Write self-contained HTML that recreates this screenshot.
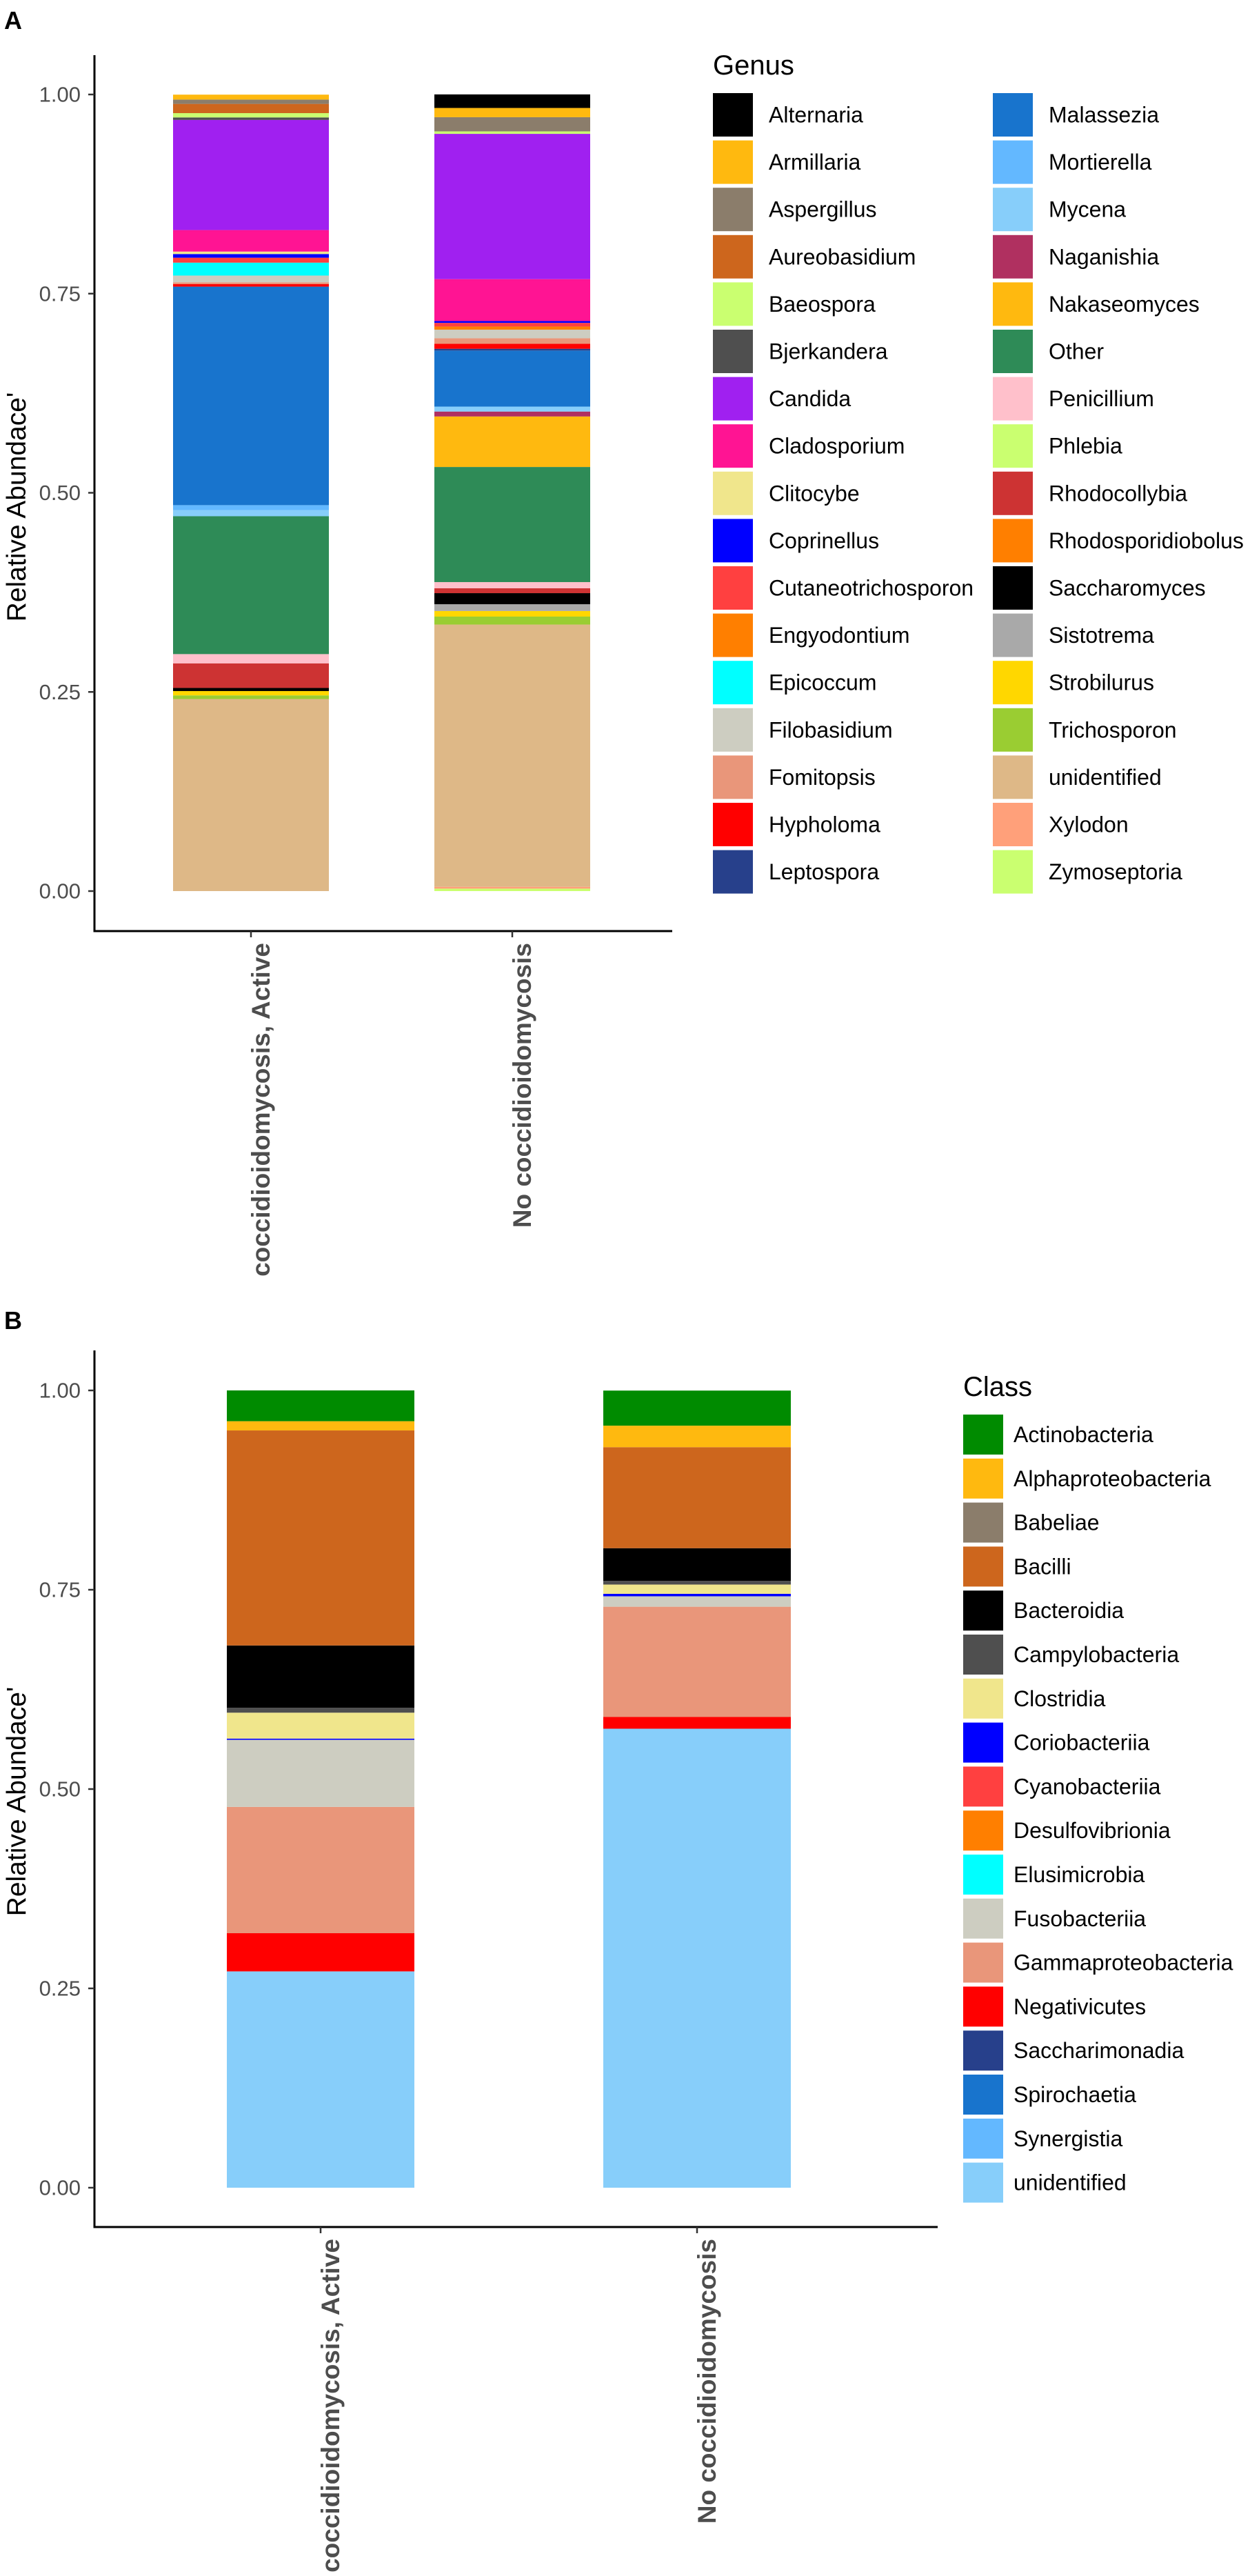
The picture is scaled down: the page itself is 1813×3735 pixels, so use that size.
<!DOCTYPE html>
<html><head><meta charset="utf-8">
<style>
html,body{margin:0;padding:0;background:#fff;}
svg{display:block;font-family:"Liberation Sans",Arial,sans-serif;}
</style></head>
<body>
<svg id="chart" width="1813" height="3735" viewBox="0 0 1813 3735" xmlns="http://www.w3.org/2000/svg">
<text x="6" y="42" font-size="36" font-weight="bold">A</text>
<text x="6" y="1927" font-size="36" font-weight="bold">B</text>
<g id="panelA"></g>
<g id="panelB"></g>
</svg>
<script>
const groups = ["coccidioidomycosis, Active", "No coccidioidomycosis"];
const yTicks = [0, 0.25, 0.5, 0.75, 1];
const yTickLabels = ["0.00", "0.25", "0.50", "0.75", "1.00"];

const genusNames = ["Alternaria","Armillaria","Aspergillus","Aureobasidium","Baeospora","Bjerkandera","Candida","Cladosporium","Clitocybe","Coprinellus","Cutaneotrichosporon","Engyodontium","Epicoccum","Filobasidium","Fomitopsis","Hypholoma","Leptospora","Malassezia","Mortierella","Mycena","Naganishia","Nakaseomyces","Other","Penicillium","Phlebia","Rhodocollybia","Rhodosporidiobolus","Saccharomyces","Sistotrema","Strobilurus","Trichosporon","unidentified","Xylodon","Zymoseptoria"];
const genusColors = ["#000000","#FFB90F","#8B7D6B","#CD661D","#CAFF70","#4F4F4F","#A020F0","#FF1493","#F0E68C","#0000FF","#FF4040","#FF7F00","#00FFFF","#CDCDC1","#E9967A","#FF0000","#27408B","#1874CD","#63B8FF","#87CEFA","#B03060","#FFB90F","#2E8B57","#FFC0CB","#CAFF70","#CD3333","#FF7F00","#000000","#A9A9A9","#FFD700","#9ACD32","#DEB887","#FFA07A","#CAFF70"];
const genusActive = [0,0.0062,0.0054,0.0116,0.0054,0.0031,0.1383,0.0270,0.0031,0.0046,0.0062,0,0.0162,0.0085,0.0023,0.0031,0,0.2743,0.0062,0.0077,0,0,0.1731,0.0116,0,0.0309,0,0.0039,0,0.0054,0.0046,0.2411,0,0];
const genusNo = [0.0170,0.0116,0.0178,0,0.0031,0,0.1824,0.0526,0,0.0023,0.0046,0.0039,0,0.0108,0.0070,0.0062,0.0023,0.0703,0,0.0062,0.0062,0.0634,0.1445,0.0077,0,0.0062,0,0.0139,0.0085,0.0070,0.0100,0.3292,0.0023,0.0031];

const classNames = ["Actinobacteria","Alphaproteobacteria","Babeliae","Bacilli","Bacteroidia","Campylobacteria","Clostridia","Coriobacteriia","Cyanobacteriia","Desulfovibrionia","Elusimicrobia","Fusobacteriia","Gammaproteobacteria","Negativicutes","Saccharimonadia","Spirochaetia","Synergistia","unidentified"];
const classColors = ["#008B00","#FFB90F","#8B7D6B","#CD661D","#000000","#4F4F4F","#F0E68C","#0000FF","#FF4040","#FF7F00","#00FFFF","#CDCDC1","#E9967A","#FF0000","#27408B","#1874CD","#63B8FF","#87CEFA"];
const classActive = [0.0386,0.0116,0,0.2697,0.0781,0.0062,0.0325,0.0015,0,0,0,0.0842,0.1584,0.0479,0,0,0,0.2713];
const classNo = [0.0440,0.0270,0,0.1267,0.0410,0.0046,0.0116,0.0031,0,0,0,0.0131,0.1383,0.0147,0,0,0,0.5757];

const NS = "http://www.w3.org/2000/svg";
function mk(parent, tag, attrs, text){
  const e = document.createElementNS(NS, tag);
  for (const k in attrs) e.setAttribute(k, attrs[k]);
  if (text !== undefined) e.textContent = text;
  parent.appendChild(e);
  return e;
}

function drawPanel(g, cfg){
  const yScale = v => cfg.y0 + (cfg.y1 - cfg.y0) * v;
  const xCenter = i => cfg.xc[i];
  const series = [cfg.active, cfg.no];
  series.forEach((vals, gi) => {
    let cum = 0;
    for (let k = vals.length - 1; k >= 0; k--) {
      const v = vals[k];
      if (v <= 0) continue;
      const ytop = yScale(cum + v), ybot = yScale(cum);
      const r = mk(g, "rect", {x: xCenter(gi) - cfg.hw, y: ytop, width: cfg.hw * 2, height: ybot - ytop, fill: cfg.colors[k]});
      
      
      cum += v;
    }
  });
  const ya = mk(g, "line", {x1: cfg.ax, y1: cfg.axTop, x2: cfg.ax, y2: cfg.axBottom + 1.5, stroke: "#000", "stroke-width": 3});
  
  
  const xa = mk(g, "line", {x1: cfg.ax - 1.5, y1: cfg.axBottom, x2: cfg.axRight, y2: cfg.axBottom, stroke: "#000", "stroke-width": 3});
  
  
  yTicks.forEach((t, i) => {
    const y = yScale(t);
    const tk = mk(g, "line", {x1: cfg.ax - 9, y1: y, x2: cfg.ax, y2: y, stroke: "#333", "stroke-width": 2.5});
    
    
    const tl = mk(g, "text", {x: cfg.ax - 20, y: y, "font-size": 31, fill: "#4d4d4d", "text-anchor": "end", "dominant-baseline": "central"}, yTickLabels[i]);
    
    
  });
  groups.forEach((gname, i) => {
    const x = xCenter(i);
    const tk = mk(g, "line", {x1: x, y1: cfg.axBottom, x2: x, y2: cfg.axBottom + 9, stroke: "#333", "stroke-width": 2.5});
    
    
    const lx = x + 27, ly = cfg.axBottom + 17;
    const tl = mk(g, "text", {x: lx, y: ly, "font-size": 37, "font-weight": "bold", fill: "#4d4d4d", "text-anchor": "end", transform: `rotate(-90 ${lx} ${ly})`}, gname);
    
    
  });
  const ty = (cfg.yTitleCenter);
  const yt = mk(g, "text", {x: 37, y: ty, "font-size": 39, fill: "#000", "text-anchor": "middle", transform: `rotate(-90 37 ${ty})`}, "Relative Abundace'");
  
  
  const lt = mk(g, "text", {x: cfg.legX[0], y: cfg.legTitleY, "font-size": 40, fill: "#000"}, cfg.legTitle);
  
  
  cfg.names.forEach((n, k) => {
    const col = Math.floor(k / cfg.perCol), row = k % cfg.perCol;
    const kx = cfg.legX[col], ky = cfg.legY0 + row * cfg.pitch;
    const key = mk(g, "rect", {x: kx, y: ky, width: 58, height: cfg.keyH, fill: cfg.colors[k]});
    
    
    const lbl = mk(g, "text", {x: kx + cfg.textOff, y: ky + cfg.keyH / 2, "font-size": 32, fill: "#000", "dominant-baseline": "central"}, n);
    
    
  });
}

drawPanel(document.getElementById("panelA"), {
  y0: 1292, y1: 137, xc: [364, 743], hw: 113, ax: 137, axTop: 80, axBottom: 1350, axRight: 975,
  active: genusActive, no: genusNo, names: genusNames, colors: genusColors,
  yTitleCenter: 735, legTitle: "Genus", legTitleY: 108, legX: [1034, 1440], legY0: 135, pitch: 68.6, keyH: 63, perCol: 17, textOff: 81
});
drawPanel(document.getElementById("panelB"), {
  y0: 3172, y1: 2016, xc: [465, 1011], hw: 136, ax: 137, axTop: 1958, axBottom: 3229, axRight: 1360,
  active: classActive, no: classNo, names: classNames, colors: classColors,
  yTitleCenter: 2612, legTitle: "Class", legTitleY: 2024, legX: [1397], legY0: 2051, pitch: 63.8, keyH: 58, perCol: 18, textOff: 73
});
</script>
</body></html>
